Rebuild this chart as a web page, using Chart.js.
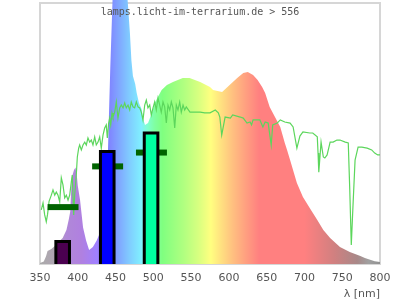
<!DOCTYPE html>
<html><head><meta charset="utf-8">
<script src="https://cdn.jsdelivr.net/npm/chart.js@4/dist/chart.umd.min.js"></script>
<style>html,body{margin:0;padding:0;background:#fff}#wrap{width:400px;height:300px}</style>
</head><body><div id="wrap"><canvas id="c"></canvas></div>
<script>
// ---- data ----
const titleText = "lamps.licht-im-terrarium.de > 556";
const axisTitle = "λ [nm]";
const xTicks = [350,400,450,500,550,600,650,700,750,800];

const lampWl  = [350,355,358,360,365,370,375,380,385,388,390,392,395,397,399,400,403,407,411,415,420,425,428,432,436,440,443,446,450,455,460,466,469,471,473,476,478,481,485,486,489,493,498,502,506,511,518,526,539,548,562,575,579,591,601,611,619,625,632,638,644,648,654,661,668,674,677,681,690,698,707,717,725,734,747,760,774,780,793,800];
const lampVal = [0.4,1,3,5,5.7,7,8.5,10,13,17,20,33,36,37,33,30,24.5,14,9,5.4,6.5,9,11,16,26,44,75,101,140,150,140,101,88.5,78,72,69,65.5,61.7,59,56,53.3,54,57.9,61.7,64,66.7,68.6,69.7,71.3,71.3,69.7,67.8,66.7,65.9,68.6,71.3,73.2,73.6,72.4,70.5,67.8,65.5,60.2,56.3,52.5,46.4,43.7,39.8,31,25.7,21.5,16.9,13,10,6.5,4.6,3.1,2.3,1.1,0.8];

const sunWl  = [351.7,354,356.2,358.3,360,362,365,367.2,369.5,371.6,373.8,376.1,378.2,380.4,382.7,384.8,387.1,389.3,391.4,392.7,394.6,395.9,398,399.4,401.2,402.5,404.7,406.9,409.2,411.3,413.5,415.8,417.9,420.1,422.4,424.5,426.8,429,431.1,433.4,435.6,437.7,439.1,440.9,442.2,443.6,445.3,446.6,448.9,451,453.2,455.5,457.6,459.9,462.1,464.2,466.5,468.7,470.8,473.1,475.3,477.5,479.7,482,484.1,486.3,488.6,490.7,492.9,495.2,497.3,499.6,501.8,503.9,506.2,508.4,510.5,512.8,515,517.2,519.4,521.7,523.8,526,528.3,530.4,532.6,534.9,537,539.3,541.5,543.6,548.5,555,562,568,575,582,586,588,590.5,595,602,605,615,619,624,628,630,632,637,641,645,648,652,656,658,664,668,674,681,685,690,694,698,707,711,717,718,719,722,725,727,730,734,738,743,747,754,758,760,762,764,767,771,776,783,789,793,797,800];
const sunVal = [20.7,23.4,18.8,16.2,19,24,26.4,28.4,26.4,27.6,26.4,23.8,33,30.3,25.3,26.4,24.5,26.4,31.4,34.1,18.8,26.4,34.1,41,44.4,45.6,43.7,45.6,46.7,45.6,48.3,46.7,47.5,45.6,48.7,45.6,46.7,48.7,44.4,49.4,52.1,53.3,48.3,54,55.9,53.3,57.9,56.3,58.2,62.1,55.9,59.8,60.9,59.8,61.7,59.8,60.9,59,62.1,60.2,59.8,62.1,60.2,59.8,58.2,55.2,60.9,62.8,59.8,60.9,57.1,59.8,62.1,59,63.6,60.9,58.2,62.1,60.2,54,60.9,59,62.1,59.8,52.1,60.9,59,62.1,58.2,60.9,59,60.2,58.2,58.2,58.2,57.9,57.9,59,57.9,56.3,49.4,56.3,55.9,57.1,56.3,55.9,54,54.4,53.3,55.2,55.2,55.2,52.5,54.4,54,45.6,53.3,54,55.2,54.4,54,52.5,44.4,49,50.6,50.2,50.2,48.7,42.5,35.2,46.7,41,40.6,41.8,46.7,46.7,47.5,47.5,46.7,46.4,28.4,7.3,20.7,39.8,44.8,44.8,44.4,43.7,42.5,41.8,41.8];

const bandStart = [371, 430, 488];
const bandEnd   = [389, 448, 506];
const bandValue = [8.6, 43.1, 50.2];

const markStart = [360, 419, 477];
const markEnd   = [401, 460, 518];
const markValue = [21.8, 37.4, 42.7];

// ---- styles ----
const bandColors = ['#4b0050', '#0000ff', '#00ffa0'];
const specStops = [
  [350,'#aaaaaa'],[372,'#b0a4b4'],[385,'#b088d8'],[405,'#b080e0'],[425,'#a080ff'],
  [440,'#8080ff'],[455,'#80a8ff'],[470,'#80d0ff'],[484,'#80f0ff'],[492,'#80ffd0'],
  [502,'#80ffa0'],[512,'#80ff80'],[540,'#b0ff80'],[560,'#d8ff80'],[576,'#ffff80'],
  [590,'#ffe080'],[605,'#ffc080'],[622,'#ffa080'],[640,'#ff8080'],[700,'#ff8080'],
  [740,'#d08080'],[770,'#a88888'],[785,'#a0a0a0'],[800,'#909090']];

const datasets = [];
datasets.push({
  type:'line', data: lampWl.map((w,i)=>({x:w,y:lampVal[i]})),
  borderWidth:0, pointRadius:0, fill:'origin', order:10,
  backgroundColor:(ctx)=>{
    const ch = ctx.chart; if(!ch.chartArea) return '#ccc';
    const xs = ch.scales.x;
    const x0 = xs.getPixelForValue(350), x1 = xs.getPixelForValue(800);
    const g = ch.ctx.createLinearGradient(x0,0,x1,0);
    specStops.forEach(([w,c])=>g.addColorStop((w-350)/450,c));
    return g;
  }
});
datasets.push({
  type:'line', data: sunWl.map((w,i)=>({x:w,y:sunVal[i]})),
  borderColor:'#5cd65c', borderWidth:1.2, pointRadius:0, fill:false, order:9, tension:0
});
markStart.forEach((s,i)=>{
  datasets.push({type:'line', data:[{x:s,y:markValue[i]},{x:markEnd[i],y:markValue[i]}],
    borderColor:'#006400', borderWidth:6, borderCapStyle:'butt', pointRadius:0, fill:false, order:8});
});
bandStart.forEach((s,i)=>{
  const e = bandEnd[i], v = bandValue[i];
  datasets.push({type:'line', data:[{x:s,y:0},{x:s,y:v},{x:e,y:v},{x:e,y:0}],
    borderColor:'#000', borderWidth:3, borderJoinStyle:'miter', pointRadius:0,
    fill:'origin', backgroundColor:bandColors[i], order:7});
});

const framePlugin = {
  id:'frame',
  beforeDatasetsDraw(chart){
    const {ctx, chartArea:a, scales:{y}} = chart;
    const top = y.getPixelForValue(100);
    ctx.save(); ctx.strokeStyle='#d6d6d6'; ctx.lineWidth=2;
    ctx.strokeRect(a.left, top, a.right-a.left, a.bottom-top);
    ctx.restore();
  },
  afterDraw(chart){
    const ctx = chart.ctx;
    ctx.save(); ctx.font='10px "DejaVu Sans Mono"'; ctx.fillStyle='#555';
    ctx.textAlign='center'; ctx.textBaseline='alphabetic';
    ctx.fillText(titleText, chart.width/2, 15);
    ctx.restore();
  }
};

new Chart(document.getElementById('c'), {
  type:'line',
  data:{datasets},
  options:{
    responsive:true, maintainAspectRatio:false, animation:false,
    layout:{padding:{left:40, right:20, top:0, bottom:0}},
    plugins:{legend:{display:false}, tooltip:{enabled:false}},
    scales:{
      x:{type:'linear', min:350, max:800,
        grid:{display:false, drawTicks:false}, border:{display:false},
        afterBuildTicks:(s)=>{ s.ticks = xTicks.map(v=>({value:v})); },
        afterFit:(s)=>{ s.height = 36; },
        ticks:{color:'#555', padding:8, maxRotation:0, autoSkip:false, font:{family:'DejaVu Sans', size:11}},
        title:{display:true, text:axisTitle, align:'end', color:'#555', padding:{top:0,bottom:-1}, font:{family:'DejaVu Sans', size:11}}
      },
      y:{display:false, min:0, max:101.15}
    }
  },
  plugins:[framePlugin]
});
</script></body></html>
